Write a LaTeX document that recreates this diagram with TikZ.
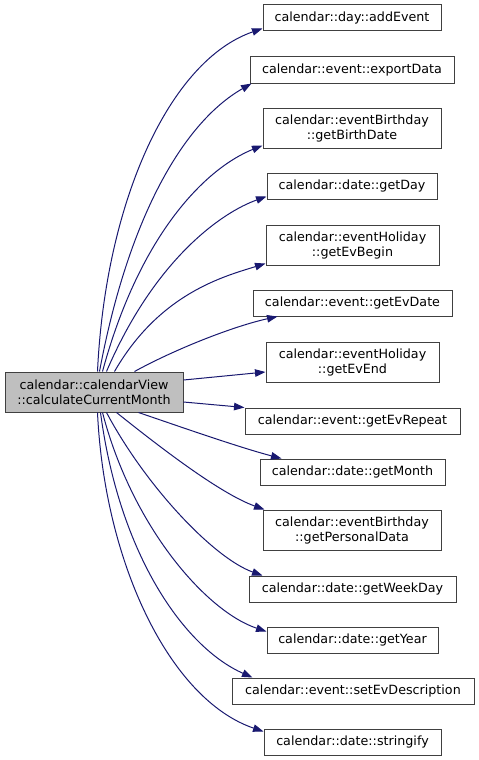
\documentclass[tikz,border=0pt]{standalone}
\usepackage{fontspec}
\setmainfont{DejaVu Sans}
\usetikzlibrary{arrows.meta,calc}
\definecolor{edgeblue}{HTML}{191970}
\definecolor{boxborder}{HTML}{404040}
\definecolor{rootfill}{HTML}{BFBFBF}
\begin{document}
\begin{tikzpicture}[x=1pt,y=-1pt,
  fn/.style={draw=boxborder, line width=1pt, fill=white, inner sep=0pt, align=center,
    font=\fontsize{12.7}{15}\selectfont, minimum height=26pt},
  fntwo/.style={fn, minimum height=40pt},
  call/.style={draw=edgeblue, line width=1pt, -{Triangle[length=10.5pt,width=7.5pt]}}]
\useasboundingbox (0,0) rectangle (479,760);
\node[fntwo, fill=rootfill, minimum width=178pt] (root) at (94,392) {calendar::calendarView\\::calculateCurrentMonth};
\node[fn, minimum width=178pt] (t1) at (352,18) {calendar::day::addEvent};
\node[fn, minimum width=204pt] (t2) at (352,70) {calendar::event::exportData};
\node[fntwo, minimum width=178pt] (t3) at (352,128) {calendar::eventBirthday\\::getBirthDate};
\node[fn, minimum width=170pt] (t4) at (352,186) {calendar::date::getDay};
\node[fntwo, minimum width=173pt] (t5) at (352.5,245) {calendar::eventHoliday\\::getEvBegin};
\node[fn, minimum width=199pt] (t6) at (352.5,303) {calendar::event::getEvDate};
\node[fntwo, minimum width=173pt] (t7) at (352.5,362) {calendar::eventHoliday\\::getEvEnd};
\node[fn, minimum width=215pt] (t8) at (352.5,421) {calendar::event::getEvRepeat};
\node[fn, minimum width=185pt] (t9) at (352.5,472) {calendar::date::getMonth};
\node[fntwo, minimum width=178pt] (t10) at (352,530) {calendar::eventBirthday\\::getPersonalData};
\node[fn, minimum width=207pt] (t11) at (352.5,589) {calendar::date::getWeekDay};
\node[fn, minimum width=171pt] (t12) at (352.5,640) {calendar::date::getYear};
\node[fn, minimum width=242pt] (t13) at (353,691) {calendar::event::setEvDescription};
\node[fn, minimum width=177pt] (t14) at (352.5,742) {calendar::date::stringify};

\draw[call] ($(root.north west)+(93,0)$) .. controls +(8,-170) and +(-93,32) .. ($(t1.south west)+(0,-3)$);
\draw[call] ($(root.north west)+(95,0)$) .. controls +(28,-150) and +(-70,40) .. ($(t2.south west)+(2,0)$);
\draw[call] ($(root.north west)+(98,0)$) .. controls +(38,-140) and +(-55,22) .. ($(t3.south west)+(0,-3)$);
\draw[call] ($(root.north west)+(102,0)$) .. controls +(48,-112) and +(-45,16) .. ($(t4.south west)+(0,-3)$);
\draw[call] ($(root.north west)+(110,0)$) .. controls +(45,-78) and +(-42,13) .. ($(t5.south west)+(0,-2)$);
\draw[call] ($(root.north west)+(130,0)$) .. controls +(40,-22) and +(-45,10) .. ($(t6.south west)+(25,0)$);
\draw[call] ($(root.east)+(0,-12)$) -- ($(t7.west)+(0,10)$);
\draw[call] ($(root.east)+(0,10)$) -- (t8.north west);
\draw[call] ($(root.south west)+(134,0)$) .. controls +(41,14) and +(-42,-11) .. ($(t9.north west)+(22,0)$);
\draw[call] ($(root.south west)+(112,0)$) .. controls +(40,32) and +(-45,-16) .. ($(t10.north west)+(2,0)$);
\draw[call] ($(root.south west)+(102,0)$) .. controls +(40,75) and +(-48,-17) .. ($(t11.north west)+(14,0)$);
\draw[call] ($(root.south west)+(98,0)$) .. controls +(30,115) and +(-60,-20) .. ($(t12.north west)+(0,5)$);
\draw[call] ($(root.south west)+(96,0)$) .. controls +(19,143) and +(-68,-30) .. ($(t13.north west)+(21,0)$);
\draw[call] ($(root.south west)+(93,0)$) .. controls +(7,150) and +(-94,-32) .. ($(t14.north west)+(0,3)$);
\end{tikzpicture}
\end{document}
